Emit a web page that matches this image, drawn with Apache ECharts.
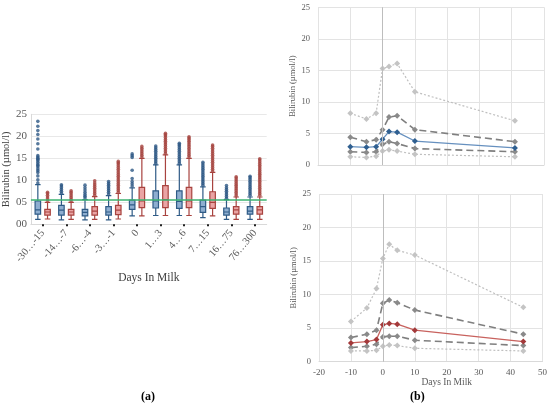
<!DOCTYPE html>
<html><head><meta charset="utf-8">
<script src="https://cdn.jsdelivr.net/npm/echarts@6/dist/echarts.min.js"></script>
<style>html,body{margin:0;padding:0;background:#fff}#c{width:550px;height:407px}</style>
</head><body><div id="c"></div>
<script>
// ---- Panel (a) data ----
const categories = ['-30…-15','-14…-7','-6…-4','-3…-1','0','1…3','4…6','7…15','16…75','76…300'];
const yTicksA = [0,5,10,15,20,25];
// [min, Q1, median, Q3, max]
const boxBlue = [
  [1.1,2.3,3.3,5.3,9.0],
  [1.0,2.1,3.2,4.3,6.8],
  [1.0,1.9,2.7,3.4,5.6],
  [1.0,2.1,2.8,4.0,6.5],
  [1.9,3.4,4.4,5.5,8.3],
  [2.0,3.7,5.3,7.6,13.5],
  [2.0,3.6,5.2,7.6,13.5],
  [1.5,2.7,4.0,5.5,8.5],
  [1.1,2.1,2.8,3.7,5.6],
  [1.1,2.3,3.0,4.0,6.2]
];
const boxRed = [
  [1.2,2.1,2.8,3.4,5.0],
  [1.1,2.1,2.8,3.4,5.0],
  [1.1,2.1,3.0,4.0,6.3],
  [1.2,2.2,3.2,4.3,7.0],
  [1.9,3.8,5.3,8.4,15.0],
  [2.0,3.8,5.6,8.8,15.8],
  [2.0,3.8,5.3,8.4,15.0],
  [1.9,3.6,5.0,7.4,11.8],
  [1.1,2.3,3.3,4.0,6.2],
  [1.1,2.3,3.3,4.0,6.2]
];
const outBlue = [
  [9.4,10.1,11.0,11.8,12.2,12.6,13.1,13.4,13.7,14.1,14.5,14.8,15.0,15.3,15.6,17.1,18.3,19.4,20.4,21.3,22.3,23.4],
  [7.1,7.5,7.9,8.3,8.7,9.0],
  [6.0,6.4,6.8,7.3,7.8,8.3,8.9],
  [6.9,7.3,7.7,8.1,8.5,8.9,9.3,9.7],
  [8.7,9.2,9.7,10.4,12.3,15.2,15.6,16.0],
  [13.8,14.2,14.6,15.0,15.4,15.8,16.2,16.6,17.0,17.4,17.8],
  [13.8,14.2,14.6,15.0,15.4,15.8,16.2,16.6,17.0,17.4,17.8,18.1,18.4],
  [8.9,9.3,9.7,10.1,10.5,10.9,11.3,11.7,12.1,12.5,12.9,13.3,13.7,14.1],
  [5.9,6.3,6.7,7.1,7.5,7.9,8.3,8.8],
  [6.6,7.0,7.4,7.8,8.2,8.6,9.0,9.4,9.8,10.2,10.6,10.9]
];
const outRed = [
  [5.4,5.8,6.2,6.6,7.0,7.3],
  [5.3,5.7,6.1,6.5,6.9,7.3,7.6],
  [6.6,7.0,7.4,7.8,8.2,8.6,9.0,9.4,9.9],
  [7.3,7.7,8.1,8.5,8.9,9.3,9.7,10.1,10.5,10.9,11.3,11.7,12.1,12.5,12.9,13.3,13.7,14.0,14.3],
  [15.3,15.7,16.1,16.5,16.9,17.3,17.7],
  [16.1,16.5,16.9,17.3,17.7,18.1,18.5,18.9,19.3,19.7,20.1,20.4,20.7],
  [15.3,15.7,16.1,16.5,16.9,17.3,17.7,18.1,18.5,18.9,19.3,19.6,19.9],
  [12.1,12.5,12.9,13.3,13.7,14.1,14.5,14.9,15.3,15.7,16.1,16.5,16.9,17.3,17.7,18.0],
  [6.5,6.9,7.3,7.7,8.1,8.5,8.9,9.3,9.7,10.1,10.5,10.8],
  [6.6,7.0,7.4,7.8,8.2,8.6,9.0,9.4,9.8,10.2,10.6,11.0,11.4,11.8,12.2,12.6,13.0,13.4,13.8,14.2,14.6,14.9]
];
const refLine = 5.6;

// ---- Panel (b) data ----
const daysTop = [-10,-5,-2,0,2,4.5,10,41];
const topP95 = [8.2,7.3,8.2,15.3,15.6,16.1,11.6,7.0];
const topP75 = [4.4,3.7,4.0,5.6,7.6,7.8,5.6,3.7];
const topMed = [2.9,2.8,2.9,4.1,5.3,5.2,3.8,2.7];
const topP25 = [2.1,2.0,2.1,3.3,3.7,3.4,2.6,2.1];
const topP5  = [1.3,1.2,1.4,2.2,2.4,2.2,1.7,1.3];
const daysBot = [-10,-5,-2,0,2,4.5,10,44];
const botP95 = [6.0,8.0,10.9,15.4,17.5,16.6,15.9,8.1];
const botP75 = [3.6,4.1,4.7,8.7,9.2,8.8,7.7,4.1];
const botMed = [2.8,3.0,3.3,5.5,5.7,5.6,4.7,3.0];
const botP25 = [2.1,2.3,2.6,3.7,3.8,3.8,3.2,2.4];
const botP5  = [1.6,1.6,1.7,2.3,2.5,2.4,2.0,1.6];
const xTicksB = [-20,-10,0,10,20,30,40,50];

const FONT = 'Liberation Serif';
const zip = (xs, ys) => xs.map((x,i)=>[x, ys[i]]);
const flatOut = arr => { const r=[]; arr.forEach((vals,i)=>vals.forEach(v=>r.push([i,v]))); return r; };

const BLUE_FILL='#8eaed0', BLUE_EDGE='#2f5b86', RED_FILL='#eaa4a4', RED_EDGE='#a8433f';

function lineSeries(name, xi, data, kind, color2) {
  const s = {name, type:'line', xAxisIndex:xi, yAxisIndex:xi, data, symbol:'diamond', symbolSize:6, z:3};
  if (kind==='dot') { s.lineStyle={color:'#bfbfbf', width:1.2, type:[2,2]}; s.itemStyle={color:'#c4c4c4'}; }
  else if (kind==='dash') { s.lineStyle={color:'#7f7f7f', width:1.6, type:[7,4]}; s.itemStyle={color:'#8a8a8a'}; }
  else { s.lineStyle={color:color2[0], width:1.3}; s.itemStyle={color:color2[1]}; s.z=4; }
  return s;
}

const valAxisB = (gi, showLabel) => ({
  type:'value', gridIndex:gi, min:-20, max:50, interval:10,
  axisLine:{show:true, lineStyle:{color:'#d9d9d9'}}, axisTick:{show:false},
  splitLine:{show:true, lineStyle:{color:'#e3e3e3'}},
  axisLabel:{show:showLabel, fontFamily:FONT, fontSize:9, color:'#595959', margin:6}
});
const yAxisB = (gi) => ({
  type:'value', gridIndex:gi, min:0, max:25, interval:5,
  name:'Bilirubin (µmol/l)', nameLocation:'middle', nameGap:18,
  nameTextStyle:{fontFamily:FONT, fontSize:8.5, color:'#595959'},
  axisLine:{show:false}, axisTick:{show:false},
  splitLine:{show:true, lineStyle:{color:'#e3e3e3'}},
  axisLabel:{fontFamily:FONT, fontSize:8.5, color:'#595959', margin:8}
});

const option = {
  animation:false,
  backgroundColor:'#fff',
  grid:[
    {left:30.7, right:283.3, top:114.3, height:110},
    {left:318, right:6, top:7.3, height:157.7},
    {left:319, right:6, top:194, height:167.7}
  ],
  xAxis:[
    {type:'category', gridIndex:0, data:categories,
     name:'Days In Milk', nameLocation:'middle', nameGap:48,
     nameTextStyle:{fontFamily:FONT, fontSize:11.5, color:'#404040'},
     axisLine:{show:true, lineStyle:{color:'#d9d9d9'}},
     axisTick:{show:true, alignWithLabel:true, length:2, lineStyle:{color:'#222', width:2}},
     axisLabel:{rotate:50, fontFamily:FONT, fontSize:10.5, color:'#595959', margin:7, interval:0},
     splitLine:{show:false}},
    valAxisB(1,false),
    Object.assign(valAxisB(2,true), {name:'Days In Milk', nameLocation:'middle', nameGap:15,
      nameTextStyle:{fontFamily:FONT, fontSize:9.5, color:'#595959', padding:[0,0,0,32]}})
  ],
  yAxis:[
    {type:'value', gridIndex:0, min:0, max:25, interval:5,
     name:'Bilirubin (µmol/l)', nameLocation:'middle', nameGap:18,
     nameTextStyle:{fontFamily:FONT, fontSize:10.5, color:'#404040'},
     axisLine:{show:true, lineStyle:{color:'#d9d9d9'}}, axisTick:{show:false},
     splitLine:{show:true, lineStyle:{color:'#e8e8e8'}},
     axisLabel:{fontFamily:FONT, fontSize:11, color:'#595959', margin:4,
       formatter:v => (v<10?'0':'')+v}},
    yAxisB(1), yAxisB(2)
  ],
  series:[
    {name:'blue', type:'boxplot', xAxisIndex:0, yAxisIndex:0, data:boxBlue, boxWidth:[5.5,5.5],
     itemStyle:{color:BLUE_FILL, borderColor:BLUE_EDGE, borderWidth:1.2},
     markLine:{silent:true, symbol:'none', label:{show:false}, z:5,
       lineStyle:{color:'#3cb371', width:1.5, type:'solid'}, data:[{yAxis:refLine}]}},
    {name:'red', type:'boxplot', xAxisIndex:0, yAxisIndex:0, data:boxRed, boxWidth:[5.5,5.5],
     itemStyle:{color:RED_FILL, borderColor:RED_EDGE, borderWidth:1.2}},
    {name:'blueOut', type:'scatter', xAxisIndex:0, yAxisIndex:0, data:flatOut(outBlue),
     symbolSize:3.6, symbolOffset:[-4.85,0], itemStyle:{color:'#2d5884'}},
    {name:'redOut', type:'scatter', xAxisIndex:0, yAxisIndex:0, data:flatOut(outRed),
     symbolSize:3.6, symbolOffset:[4.85,0], itemStyle:{color:'#a5433f'}},

    Object.assign(lineSeries('p95',1,zip(daysTop,topP95),'dot'), {markLine:{silent:true, symbol:'none', label:{show:false}, lineStyle:{color:'#bdbdbd', width:1, type:'solid'}, data:[{xAxis:0}]}}),
    lineSeries('p75',1,zip(daysTop,topP75),'dash'),
    lineSeries('p25',1,zip(daysTop,topP25),'dash'),
    lineSeries('p5',1,zip(daysTop,topP5),'dot'),
    lineSeries('median',1,zip(daysTop,topMed),'solid',['#6690bf','#2f5f90']),

    Object.assign(lineSeries('p95',2,zip(daysBot,botP95),'dot'), {markLine:{silent:true, symbol:'none', label:{show:false}, lineStyle:{color:'#bdbdbd', width:1, type:'solid'}, data:[{xAxis:0}]}}),
    lineSeries('p75',2,zip(daysBot,botP75),'dash'),
    lineSeries('p25',2,zip(daysBot,botP25),'dash'),
    lineSeries('p5',2,zip(daysBot,botP5),'dot'),
    lineSeries('median',2,zip(daysBot,botMed),'solid',['#c8625e','#a3393a'])
  ],
  graphic:[
    {type:'text', left:141, top:391, style:{text:'(a)', fontFamily:FONT, fontWeight:'bold', fontSize:12, fill:'#000'}},
    {type:'text', left:410, top:391, style:{text:'(b)', fontFamily:FONT, fontWeight:'bold', fontSize:12, fill:'#000'}}
  ]
};
const chart = echarts.init(document.getElementById('c'), null, {renderer:'canvas'});
chart.setOption(option);
</script></body></html>
